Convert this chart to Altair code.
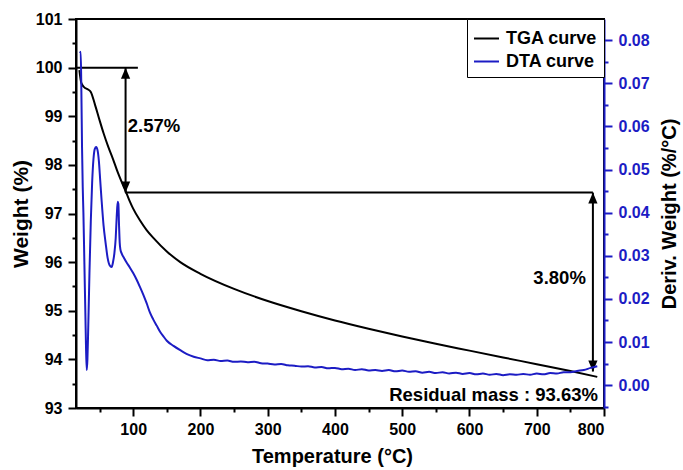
import altair as alt
import pandas as pd

BLUE = "#1c1cc4"
FONT = "Liberation Sans"

# ---- TGA curve (weight %) ----
tga_temp = [20, 23, 27, 33, 37, 43, 50, 56, 63, 70, 77, 85, 90, 95, 100, 110, 120, 130,
            150, 170, 200, 250, 300, 350, 400, 450, 500, 550, 600, 650, 700, 750, 790]
tga_weight = [99.95, 99.68, 99.6, 99.55, 99.5, 99.25, 98.92, 98.65, 98.37, 98.12, 97.85,
              97.58, 97.42, 97.25, 97.1, 96.86, 96.66, 96.5, 96.22, 96.0, 95.76, 95.45,
              95.2, 94.99, 94.8, 94.63, 94.47, 94.32, 94.18, 94.04, 93.9, 93.76, 93.64]

# ---- DTA curve (deriv. weight %/°C) ----
dta_temp = [21, 22, 23, 24, 25, 26, 27.5, 29, 30, 31, 32, 33, 35, 37, 39, 41, 43, 45, 47,
            49, 51, 53, 56, 59, 62, 65, 68, 70, 72, 74, 75.5, 77, 78, 79, 80, 81, 83, 86,
            90, 95, 100, 105, 110, 115, 120, 125, 130, 135, 140, 145, 150, 160, 170, 180,
            190, 200, 210, 220, 230, 240, 250, 260, 270, 280, 290, 300, 310, 320, 330,
            340, 350, 360, 370, 380, 390, 400, 410, 420, 430, 440, 450, 460, 470, 480,
            490, 500, 510, 520, 530, 540, 550, 560, 570, 580, 590, 600, 610, 620, 630,
            640, 650, 660, 670, 680, 690, 700, 710, 720, 730, 740, 750, 760, 770, 780, 790]
dta_deriv = [0.0770, 0.0773, 0.068, 0.055, 0.046, 0.040, 0.028, 0.016, 0.008, 0.0035,
             0.006, 0.012, 0.026, 0.038, 0.047, 0.0525, 0.0548, 0.0552, 0.0545, 0.052,
             0.0475, 0.043, 0.037, 0.033, 0.0295, 0.0278, 0.0274, 0.0285, 0.0305, 0.034,
             0.039, 0.0425, 0.042, 0.037, 0.033, 0.0315, 0.0305, 0.0296, 0.0285, 0.0273,
             0.026, 0.0245, 0.0228, 0.021, 0.019, 0.0168, 0.0152, 0.0138, 0.0124, 0.0113,
             0.0103, 0.0091, 0.0081, 0.0072, 0.0066, 0.0062, 0.0058, 0.0059, 0.0056,
             0.0057, 0.0054, 0.0055, 0.0053, 0.0054, 0.0051, 0.0050, 0.0048, 0.0049,
             0.0046, 0.0045, 0.0043, 0.0044, 0.0041, 0.0042, 0.0039, 0.0040, 0.0037,
             0.0038, 0.0035, 0.0037, 0.0034, 0.0035, 0.0033, 0.0035, 0.0032, 0.0034,
             0.0031, 0.0032, 0.0029, 0.0031, 0.0028, 0.0030, 0.0027, 0.0029, 0.0026,
             0.0028, 0.0025, 0.0027, 0.0024, 0.0026, 0.0023, 0.0025, 0.0024, 0.0026,
             0.0024, 0.0027, 0.0025, 0.0028, 0.0027, 0.0030, 0.0030, 0.0033, 0.0035,
             0.0040, 0.0044]

# ---- axis ticks ----
x_ticks = list(range(50, 801, 50))
w_ticks = [93 + 0.5 * i for i in range(17)]
d_ticks = [round(-0.005 + 0.005 * i, 3) for i in range(18)]

# ---- annotations ----
hline_t1 = [15, 88]
hline_t2 = [107, 783.5]
hline_w = [100, 97.43]
arrow_t = [88.7, 783.5]
arrow_top = [100, 97.43]
arrow_bottom = [97.43, 93.75]
label_left_text = ["2.57%"]
label_left_t = [92]
label_left_w = [98.8]
label_right_text = ["3.80%", "Residual mass : 93.63%"]
label_right_t = [773, 791]
label_right_w = [95.67, 93.26]

series_names = ["TGA curve", "DTA curve"]

tga_df = pd.DataFrame({"t": tga_temp, "w": tga_weight, "series": "TGA curve"})
dta_df = pd.DataFrame({"t": dta_temp, "d": dta_deriv, "series": "DTA curve"})
hline_df = pd.DataFrame({"t": hline_t1, "t2": hline_t2, "w": hline_w})
arrow_df = pd.DataFrame({"t": arrow_t, "w": arrow_top, "w2": arrow_bottom})
lab_l_df = pd.DataFrame({"t": label_left_t, "w": label_left_w, "txt": label_left_text})
lab_r_df = pd.DataFrame({"t": label_right_t, "w": label_right_w, "txt": label_right_text})

common_axis = dict(
    grid=False, domainWidth=2, tickWidth=2,
    labelFont=FONT, labelFontSize=16, labelFontWeight="bold",
    titleFont=FONT, titleFontWeight="bold",
)

x_scale = alt.Scale(domain=[15, 800], nice=False, zero=False)
x_axis = alt.Axis(
    values=x_ticks,
    labelExpr="datum.value % 100 === 0 ? format(datum.value, 'd') : ''",
    tickSize={"condition": {"test": "datum.value % 100 === 0", "value": 8}, "value": 4},
    domainColor="black", tickColor="black", labelColor="black", titleColor="black",
    labelPadding=5, titlePadding=9, title="Temperature (°C)", titleFontSize=20,
    titleX=256,
    **common_axis,
)

w_scale = alt.Scale(domain=[93, 101], nice=False, zero=False)
w_axis = alt.Axis(
    values=w_ticks,
    labelExpr="datum.value % 1 === 0 ? format(datum.value, 'd') : ''",
    tickSize={"condition": {"test": "datum.value % 1 === 0", "value": 8}, "value": 4},
    domainColor="black", tickColor="black", labelColor="black", titleColor="black",
    labelPadding=6, titlePadding=4, title="Weight (%)", titleFontSize=21,
    **common_axis,
)

d_scale = alt.Scale(domain=[-0.0053, 0.0849], nice=False, zero=False)
d_test = "abs(datum.value * 100 - round(datum.value * 100)) < 1e-6"
d_axis = alt.Axis(
    orient="right",
    values=d_ticks,
    labelExpr=d_test + " ? format(datum.value, '.2f') : ''",
    tickSize={"condition": {"test": d_test, "value": 8}, "value": 4},
    domainColor=BLUE, tickColor=BLUE, labelColor=BLUE, titleColor="black",
    labelPadding=6, titlePadding=10, title="Deriv. Weight (%/°C)", titleFontSize=20,
    titleAngle=270, titleBaseline="top",
    **common_axis,
)


def X(field):
    return alt.X(f"{field}:Q", scale=x_scale, axis=x_axis)


def YW(field):
    return alt.Y(f"{field}:Q", scale=w_scale, axis=w_axis)


color_enc = alt.Color(
    "series:N",
    scale=alt.Scale(domain=series_names, range=["black", BLUE]),
    legend=alt.Legend(title=None),
)

tga = alt.Chart(tga_df).mark_line(strokeWidth=2, interpolate="monotone").encode(
    x=X("t"), y=YW("w"), color=color_enc
)

hlines = alt.Chart(hline_df).mark_rule(color="black", strokeWidth=2).encode(
    x=X("t"), x2="t2:Q", y=YW("w")
)

arrow_shaft = alt.Chart(arrow_df).mark_rule(color="black", strokeWidth=2).encode(
    x=X("t"), y=YW("w"), y2="w2:Q"
)

arrow_up = alt.Chart(arrow_df).mark_point(
    shape="M0,0L-0.42,1L0.42,1Z", filled=True, size=484, color="black", opacity=1
).encode(x=X("t"), y=YW("w"))

arrow_down = alt.Chart(arrow_df).mark_point(
    shape="M0,0L-0.42,-1L0.42,-1Z", filled=True, size=484, color="black", opacity=1
).encode(x=X("t"), y=YW("w2"))

text_l = alt.Chart(lab_l_df).mark_text(
    align="left", baseline="middle", font=FONT, fontSize=18.5, fontWeight="bold", color="black"
).encode(x=X("t"), y=YW("w"), text="txt:N")

text_r = alt.Chart(lab_r_df).mark_text(
    align="right", baseline="middle", font=FONT, fontSize=18.5, fontWeight="bold", color="black"
).encode(x=X("t"), y=YW("w"), text="txt:N")

left_layer = alt.layer(tga, hlines, arrow_shaft, arrow_up, arrow_down, text_l, text_r)

dta = alt.Chart(dta_df).mark_line(strokeWidth=2, interpolate="monotone").encode(
    x=X("t"),
    y=alt.Y("d:Q", scale=d_scale, axis=d_axis),
    color=color_enc,
)

chart = (
    alt.layer(left_layer, dta)
    .resolve_scale(y="independent")
    .properties(
        width=528,
        height=389,
        autosize=alt.AutoSizeParams(type="none"),
        padding={"left": 76, "top": 19, "right": 79, "bottom": 62},
        background="white",
    )
    .configure_view(stroke="black", strokeWidth=2)
    .configure_legend(
        orient="top-right",
        offset=0,
        strokeColor="black",
        fillColor="white",
        padding=6,
        symbolType="stroke",
        symbolStrokeWidth=2,
        symbolSize=625,
        labelFont=FONT,
        labelFontSize=18,
        labelFontWeight="bold",
        labelColor="black",
        rowPadding=0,
        labelOffset=6,
    )
)

chart.save("out.html", embed_options={"renderer": "svg", "actions": False})
